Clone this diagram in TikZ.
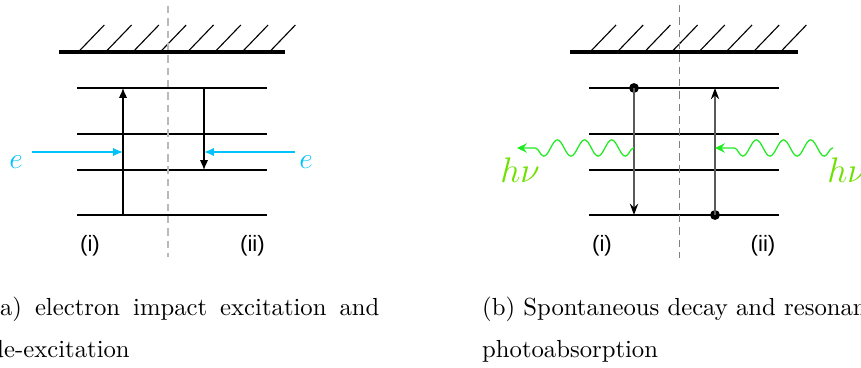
\documentclass[tikz,border=0pt]{standalone}
\usepackage{amsmath,amssymb}
\usepackage{fontspec}
\newfontfamily\labelfont{Liberation Sans}
\usetikzlibrary{arrows.meta,calc,positioning,decorations.pathmorphing}
\definecolor{ecyan}{RGB}{0,195,250}
\definecolor{wavegreen}{RGB}{30,235,30}
\definecolor{hvgreen}{RGB}{110,225,0}

\tikzset{
  level/.style={line width=0.85pt},
  wall/.style={line width=1.3pt},
  hatch/.style={line width=0.45pt},
  divA/.style={gray!55, line width=0.75pt, dash pattern=on 3pt off 2pt},
  divB/.style={gray, line width=0.4pt, dash pattern=on 3pt off 2pt},
  trans/.style={line width=0.5pt, -{Latex[length=4pt,width=3.4pt]}},
  ebeam/.style={ecyan, line width=0.65pt, -{Latex[length=4pt,width=3.4pt]}},
  ptrans/.style={black!65, line width=0.65pt, -{Stealth[black,length=4.6pt,width=3.4pt,inset=1.6pt]}},
  photon/.style={wavegreen, line width=0.5pt, -{Stealth[length=4pt,width=3.8pt,inset=1.4pt]},
    decorate, decoration={snake, segment length=11pt, amplitude=3.3pt, pre length=0.1pt, post length=4pt}},
  dot/.style={circle, fill=black, inner sep=0pt, minimum size=4pt},
  elab/.style={ecyan, font=\fontsize{12}{14}\selectfont},
  hvlab/.style={hvgreen, font=\fontsize{13.5}{15}\selectfont},
  part/.style={font=\labelfont\fontsize{9}{11}\selectfont}
}

\begin{document}
\begin{tikzpicture}[x=0.405pt, y=-0.405pt]
\clip (0,0) rectangle (861,368);

% --- (a) electron impact ---
\draw[wall] (59,52) -- (285,52);
\foreach \i in {0,...,7}
  \draw[hatch] (78.3+27.3*\i,52) -- ++(26,-27);
\foreach \y [count=\k] in {88,134,170,215}
  \draw[level] (77,\y) coordinate (aw\k) -- (267,\y) coordinate (ae\k);
\draw[divA] (167.7,6) coordinate (adt) -- (167.7,257) coordinate (adb);
\coordinate (exc) at (123,0);
\coordinate (dex) at (204,0);
\draw[trans] (exc |- aw4) -- (exc |- aw1);
\draw[trans] (dex |- aw1) -- (dex |- aw3);
\coordinate (ein) at (32,152);
\coordinate (eout) at (295,152);
\draw[ebeam] (ein) -- (exc |- ein);
\draw[ebeam] (eout) -- (dex |- eout);
\node[elab] (ea) at (16,162) {$e$};
\node[elab] (eb) at (306,162) {$e$};
\node[part] (ai) at (90,246) {(i)};
\node[part] (aii) at (252.5,246) {(ii)};

% --- (b) fotoni ---
\draw[wall] (570,52) -- (798,52);
\foreach \i in {0,...,7}
  \draw[hatch] (590+27.2*\i,52) -- ++(26,-27);
\foreach \y [count=\k] in {88,134,170,215}
  \draw[level] (589,\y) coordinate (bw\k) -- (779,\y) coordinate (be\k);
\draw[divB] (679.3,5) coordinate (bdt) -- (679.3,258) coordinate (bdb);
\coordinate (dec) at (634,0);
\coordinate (abs) at (715,0);
\node[dot] (ndec) at (dec |- bw1) {};
\node[dot] (nabs) at (abs |- bw4) {};
\draw[ptrans] (ndec.center) -- (dec |- bw4);
\draw[ptrans] (nabs.center) -- (abs |- bw1);
\coordinate (pout) at (517,148);
\coordinate (pin) at (833,148);
\draw[photon] (dec |- pout) -- (pout);
\draw[photon] (pin) -- (abs |- pin);
\node[hvlab] (hva) at (520,170) {$h\nu$};
\node[hvlab] (hvb) at (847,170) {$h\nu$};
\node[part] (bi) at (602,246) {(i)};
\node[part] (bii) at (763,246) {(ii)};

% --- didascalie ---
\node[anchor=base west, inner sep=0pt] (capa) at (-10,316)
  {\makebox[157.5pt][s]{(a) electron impact excitation and}};
\node[anchor=base west, inner sep=0pt] (capa2) at (-10,358) {de-excitation};
\node[anchor=base west, inner sep=0pt] (capb) at (481.7,316)
  {(b) Spontaneous decay and resonant};
\node[anchor=base west, inner sep=0pt] (capb2) at (481.7,358) {photoabsorption};
\end{tikzpicture}
\end{document}
